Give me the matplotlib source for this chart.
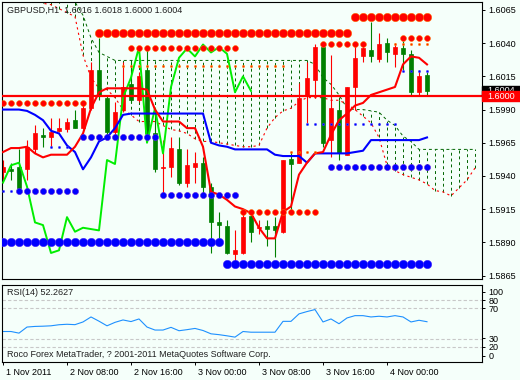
import numpy as np
import matplotlib.pyplot as plt
from matplotlib.patches import Rectangle
from matplotlib.transforms import blended_transform_factory, ScaledTranslation

plt.rcParams['font.family'] = ['Liberation Sans', 'DejaVu Sans']

# GBPUSD H1 bars (bar 0 = first visible bar)
opens = [1.5943, 1.5945, 1.5947, 1.5945, 1.5960, 1.5971, 1.5969, 1.5974, 1.5975, 1.5982,
         1.5976, 1.5991, 1.6020, 1.5999, 1.5973, 1.5990, 1.6009, 1.5997, 1.6020, 1.5972,
         1.5946, 1.5947, 1.5960, 1.5935, 1.5947, 1.5950, 1.5932, 1.5905, 1.5902, 1.5881,
         1.5882, 1.5910, 1.5901, 1.5902, 1.5902, 1.5898, 1.5953, 1.5950, 1.6000, 1.6012,
         1.6037, 1.5967, 1.5990, 1.5956, 1.6007, 1.6030, 1.6035, 1.6028, 1.6040, 1.6032,
         1.6036, 1.6032, 1.6003, 1.6016]
highs = [1.5952, 1.5950, 1.5960, 1.5967, 1.5978, 1.5976, 1.5984, 1.5984, 1.5984, 1.5990,
         1.5996, 1.6026, 1.6044, 1.6001, 1.5996, 1.6026, 1.6026, 1.6018, 1.6035, 1.5990,
         1.5967, 1.5969, 1.5969, 1.5960, 1.5958, 1.5954, 1.5935, 1.5913, 1.5907, 1.5899,
         1.5912, 1.5912, 1.5907, 1.5907, 1.5909, 1.5952, 1.5958, 1.6010, 1.6026, 1.6039,
         1.6040, 1.6031, 1.5997, 1.6007, 1.6041, 1.6041, 1.6056, 1.6048, 1.6044, 1.6040,
         1.6042, 1.6035, 1.6020, 1.6018]
lows = [1.5937, 1.5937, 1.5929, 1.5937, 1.5957, 1.5962, 1.5962, 1.5973, 1.5973, 1.5976,
        1.5975, 1.5990, 1.5997, 1.5971, 1.5969, 1.5988, 1.5995, 1.5996, 1.5966, 1.5943,
        1.5927, 1.5939, 1.5933, 1.5932, 1.5935, 1.5927, 1.5882, 1.5887, 1.5881, 1.5875,
        1.5881, 1.5890, 1.5896, 1.5887, 1.5879, 1.5897, 1.5913, 1.5950, 1.5980, 1.5999,
        1.5962, 1.5954, 1.5952, 1.5956, 1.5990, 1.6026, 1.6026, 1.6026, 1.6026, 1.6022,
        1.6020, 1.6001, 1.6001, 1.6000]
closes = [1.5947, 1.5944, 1.5931, 1.5962, 1.5972, 1.5969, 1.5973, 1.5976, 1.5981, 1.5976,
          1.5991, 1.6020, 1.6001, 1.5973, 1.5988, 1.6007, 1.5997, 1.6015, 1.5972, 1.5945,
          1.5947, 1.5961, 1.5935, 1.5948, 1.5950, 1.5932, 1.5905, 1.5903, 1.5882, 1.5884,
          1.5909, 1.5898, 1.5901, 1.5900, 1.5899, 1.5952, 1.5949, 1.5999, 1.6014, 1.6037,
          1.5965, 1.5991, 1.5957, 1.6007, 1.6029, 1.6036, 1.6030, 1.6039, 1.6033, 1.6037,
          1.6032, 1.6003, 1.6015, 1.6004]

# Ichimoku lines
tenkan = [1.5958, 1.5961, 1.5961, 1.5962, 1.5957, 1.5954, 1.5956, 1.5956, 1.5956, 1.5962,
          1.5972, 1.5991, 1.6003, 1.6006, 1.6006, 1.6006, 1.6006, 1.6006, 1.6005, 1.5990,
          1.5981, 1.5981, 1.5981, 1.5976, 1.5976, 1.5962, 1.5928, 1.5926, 1.5922, 1.5917,
          1.5915, 1.5912, 1.5901, 1.5893, 1.5893, 1.5913, 1.5917, 1.5941, 1.5950, 1.5957,
          1.5958, 1.5971, 1.5982, 1.5987, 1.5993, 1.5995, 1.6001, 1.6003, 1.6005, 1.6007,
          1.6024, 1.6030, 1.6029, 1.6024]
kijun = [1.5990, 1.5990, 1.5990, 1.5989, 1.5986, 1.5982, 1.5974, 1.5972, 1.5963, 1.5958,
         1.5945, 1.5954, 1.5966, 1.5969, 1.5976, 1.5986, 1.5987, 1.5987, 1.5987, 1.5987,
         1.5987, 1.5987, 1.5987, 1.5987, 1.5987, 1.5987, 1.5965, 1.5963, 1.5962, 1.5960,
         1.5960, 1.5960, 1.5960, 1.5960, 1.5956, 1.5955, 1.5955, 1.5955, 1.5950, 1.5957,
         1.5957, 1.5957, 1.5957, 1.5957, 1.5958, 1.5959, 1.5967, 1.5967, 1.5967, 1.5967,
         1.5967, 1.5967, 1.5967, 1.5969]
span_a = [1.6084, 1.6082, 1.6079, 1.6076, 1.6073, 1.6070, 1.6069, 1.6066, 1.6063, 1.6060,
          1.6031, 1.6014, 1.6006, 1.6005, 1.5999, 1.5990, 1.5986, 1.5981, 1.5981, 1.5981,
          1.5978, 1.5975, 1.5974, 1.5972, 1.5968, 1.5966, 1.5966, 1.5965, 1.5964, 1.5963,
          1.5962, 1.5962, 1.5963, 1.5976, 1.5984, 1.5989, 1.5991, 1.5996, 1.5999, 1.5999,
          1.5999, 1.5997, 1.5997, 1.5994, 1.5990, 1.5985, 1.5980, 1.5969, 1.5948, 1.5944,
          1.5941, 1.5939, 1.5937, 1.5934, 1.5929, 1.5928, 1.5925, 1.5931, 1.5937, 1.5946]
span_b = [1.6103, 1.6103, 1.6099, 1.6095, 1.6095, 1.6091, 1.6088, 1.6084, 1.6076, 1.6071,
          1.6061, 1.6044, 1.6033, 1.6030, 1.6027, 1.6027, 1.6027, 1.6027, 1.6027, 1.6027,
          1.6027, 1.6027, 1.6027, 1.6027, 1.6027, 1.6027, 1.6027, 1.6027, 1.6027, 1.6027,
          1.6027, 1.6027, 1.6027, 1.6027, 1.6027, 1.6027, 1.6027, 1.6027, 1.6027, 1.6024,
          1.6014, 1.6009, 1.6001, 1.5991, 1.5990, 1.5990, 1.5989, 1.5988, 1.5982, 1.5978,
          1.5970, 1.5966, 1.5960, 1.5960, 1.5960, 1.5960, 1.5960, 1.5960, 1.5960, 1.5960]
chikou_shift = 22

rsi = [39.6, 39.6, 37.5, 45.4, 46.2, 46.5, 47.0, 48.4, 49.0, 48.5,
       52.0, 58.5, 53.0, 47.0, 51.5, 54.6, 52.5, 55.9, 45.4, 41.5,
       41.5, 45.0, 40.6, 42.0, 43.6, 40.9, 36.6, 35.5, 34.0, 32.3,
       39.6, 38.7, 38.7, 38.7, 38.7, 52.8, 52.8, 62.5, 65.5, 68.1,
       52.0, 55.9, 49.7, 57.2, 60.2, 60.2, 58.5, 59.4, 58.5, 60.2,
       58.5, 52.0, 54.2, 52.3]

# support / resistance dot rows: (price, first bar, last bar)
red_big = [(1.6048, 12, 43), (1.6060, 44, 53)]
red_mid = [(1.6036, 16, 29), (1.6039, 40, 45), (1.6044, 50, 53), (1.5995, 0, 10), (1.5913, 30, 39)]
red_small = [(1.6023, 15, 35), (1.6039, 49, 53), (1.5958, 36, 39)]
blue_big = [(1.5890, 0, 27), (1.5874, 28, 53)]
blue_mid = [(1.5929, 2, 9), (1.5969, 10, 19), (1.5926, 20, 29), (1.5947, 41, 53)]
blue_small = [(1.5929, 0, 1), (1.5962, 6, 8), (1.5979, 38, 49), (1.6019, 50, 53)]

price_ticks = [1.6065, 1.6040, 1.6015, 1.5990, 1.5965, 1.5940, 1.5915, 1.5890, 1.5865]
rsi_levels = [80, 70, 30, 20]
rsi_tick_pos = [91, 80, 70, 31, 20, 8]
rsi_tick_labels = ['100', '80', '70', '30', '20', '0']
time_bars = [0, 8, 16, 24, 32, 40, 48]
time_labels = ['1 Nov 2011', '2 Nov 08:00', '2 Nov 16:00', '3 Nov 00:00',
               '3 Nov 08:00', '3 Nov 16:00', '4 Nov 00:00']
line_price = 1.6000
bid_price = 1.6004

bg = '#f5fffa'
fs = 6.5

fig = plt.figure(figsize=(5.2, 3.8), dpi=100, facecolor=bg)
ax = fig.add_axes([2/520, 101/380, 480/520, 277/380], facecolor=bg)
ax2 = fig.add_axes([2/520, 18/380, 480/520, 77/380], facecolor=bg)

xlim = (-0.125, 59.875)
ax.set_xlim(*xlim)
ax.set_ylim(1.58624, 1.60710)

x = np.arange(len(closes))
o = np.array(opens)
c = np.array(closes)
up = c >= o
cols = np.where(up, '#ff0000', '#008000')

# cloud
xc = np.arange(len(span_a))
ax.vlines(xc, span_a, span_b, colors='#006400', linestyles=(0, (3, 3)), lw=0.7, zorder=1)
ax.plot(xc, span_b, color='#006400', ls=(0, (3, 3)), lw=0.7, zorder=1)
ax.plot(xc, span_a, color='#ff0000', ls=(0, (2, 3)), lw=0.8, zorder=1)

# candles
ax.vlines(x, lows, highs, colors=cols, lw=0.8, zorder=2)
bottoms = np.minimum(o, c)
heights = np.maximum(np.abs(c - o), 0.00002)
ax.bar(x, heights, width=0.55, bottom=bottoms, color=cols, edgecolor=cols, lw=0.5, zorder=2)

# ichimoku lines
ax.plot(x[:-chikou_shift], closes[chikou_shift:], color='#00ee00', lw=1.4, zorder=3)
ax.plot(x, kijun, color='#0000ff', lw=1.5, zorder=3)
ax.plot(x, tenkan, color='#ff0000', lw=1.5, zorder=3)

# dot rows
def dots(rows, color, ms, edge):
    for p, a, b in rows:
        xs = np.arange(a, b + 1)
        ax.plot(xs, [p] * len(xs), 'o', ms=ms, color=color, mec=edge, mew=0.4, zorder=4)

dots(red_big, '#ff0000', 6.0, '#ff6a00')
dots(red_mid, '#ff0000', 4.2, '#ff6a00')
dots(red_small, '#ff2000', 1.6, '#ff8c00')
dots(blue_big, '#0000ff', 6.0, '#4020ff')
dots(blue_mid, '#0000ff', 4.4, '#6020e0')
dots(blue_small, '#0000ff', 1.6, '#4040ff')

ax.axhline(line_price, color='#ff0000', lw=1.6, zorder=5)

# price scale on the right
ax.yaxis.tick_right()
ax.set_yticks(price_ticks)
ax.set_yticklabels(['%.4f' % p for p in price_ticks], fontsize=fs)
ax.tick_params(axis='y', length=2.5, width=0.7, pad=2)
ax.set_xticks([])

# bid and line labels
tr = blended_transform_factory(ax.transAxes, ax.transData)
h = 0.00075
ax.add_patch(Rectangle((1.0, bid_price - h / 2), 0.08, h, transform=tr, color='black',
                       clip_on=False, zorder=6))
ax.text(1.012, bid_price, '%.4f' % bid_price, transform=tr, color='white', fontsize=fs,
        va='center', ha='left', clip_on=False, zorder=7)
ax.add_patch(Rectangle((1.0, line_price - h / 2), 0.08, h, transform=tr, color='#ff0000',
                       clip_on=False, zorder=8))
ax.text(1.012, line_price, '%.4f' % line_price, transform=tr, color='white', fontsize=fs,
        va='center', ha='left', clip_on=False, zorder=9)

ax.text(0.01, 0.985, 'GBPUSD,H1  %.4f %.4f %.4f %.4f' % (opens[-1], highs[-1], lows[-1], closes[-1]),
        transform=ax.transAxes, fontsize=fs, color='#202020', va='top', ha='left', zorder=10)

# RSI panel
ax2.set_xlim(*xlim)
ax2.set_ylim(0, 100)
for lv in rsi_levels:
    ax2.axhline(lv, color='#c8c8c8', ls=(0, (3, 2)), lw=0.8)
ax2.plot(x, rsi, color='#1e90ff', lw=0.8)
ax2.yaxis.tick_right()
ax2.set_yticks(rsi_tick_pos)
ax2.set_yticklabels(rsi_tick_labels, fontsize=fs)
ax2.tick_params(axis='y', length=2.5, width=0.7, pad=2)
ax2.set_xticks(time_bars)
ax2.set_xticklabels(time_labels, fontsize=fs, ha='left')
ax2.tick_params(axis='x', length=2.5, width=0.7, pad=1.5)
shift = ScaledTranslation(3 / 100, 0, fig.dpi_scale_trans)
for lab in ax2.get_xticklabels():
    lab.set_transform(lab.get_transform() + shift)
ax2.text(0.01, 0.9, 'RSI(14) %.4f' % 52.2627, transform=ax2.transAxes, fontsize=fs,
         color='#202020', va='center', ha='left')
ax2.text(0.01, 0.1, 'Roco Forex MetaTrader, ? 2001-2011 MetaQuotes Software Corp.',
         transform=ax2.transAxes, fontsize=fs, color='#202020', va='center', ha='left')

for a in (ax, ax2):
    for s in a.spines.values():
        s.set_color('black')
        s.set_linewidth(0.8)

fig.savefig('out.png', dpi=100, facecolor=bg)
